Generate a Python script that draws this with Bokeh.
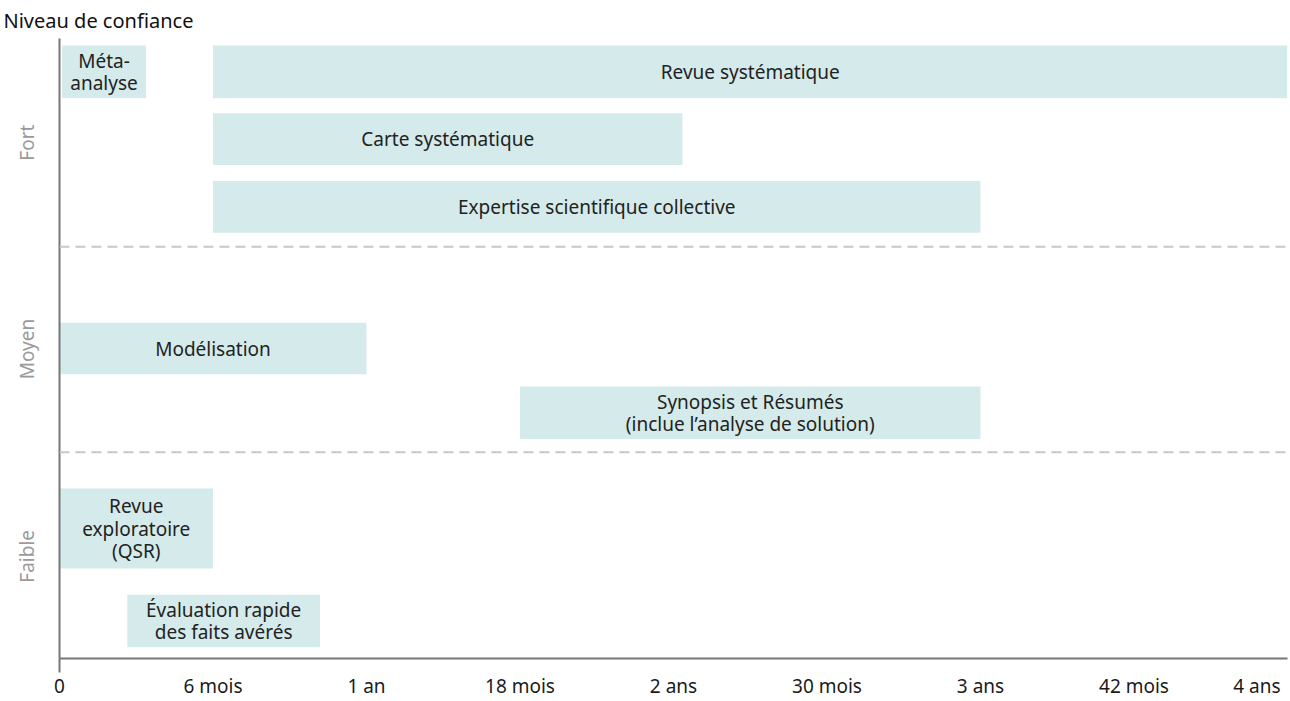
from bokeh.plotting import figure
from bokeh.models import Range1d, FixedTicker, Span, ColumnDataSource
from bokeh.core.properties import value
from bokeh.embed import file_html
from bokeh.resources import INLINE

# ---- data ----
methods = [
    "Méta-\nanalyse",
    "Revue systématique",
    "Carte systématique",
    "Expertise scientifique collective",
    "Modélisation",
    "Synopsis et Résumés\n(inclue l\u2019analyse de solution)",
    "Revue\nexploratoire\n(QSR)",
    "Évaluation rapide\ndes faits avérés",
]
start_months = [0.1, 6.0, 6.0, 6.0, 0.0, 18.0, 0.0, 2.65]
end_months = [3.38, 48.0, 24.35, 36.0, 12.0, 36.0, 6.0, 10.18]
# vertical lane position (confidence scale, 0 = bottom) and lane thickness
lane_pos = [580, 580, 513.5, 446.5, 306.5, 243, 128.5, 37]
lane_size = [52, 52, 51, 51, 51, 52, 79, 52]

tick_months = [0, 6, 12, 18, 24, 30, 36, 42, 48]
tick_labels = ["0", "6 mois", "1 an", "18 mois", "2 ans", "30 mois", "3 ans", "42 mois", "4 ans"]

levels = ["Fort", "Moyen", "Faible"]
level_pos = [510, 306, 101]
level_bounds = [407, 204]

FONT = "Noto Sans"
FS = "19px"
BAR = "#d5eaea"
AXIS = "#777777"

src = ColumnDataSource(dict(
    name=methods, left=start_months, right=end_months, y=lane_pos, h=lane_size,
    xc=[(a + b) / 2 for a, b in zip(start_months, end_months)],
))

p = figure(width=1290, height=701, x_range=Range1d(0, 48), y_range=Range1d(0, 613),
           output_backend="svg", toolbar_location=None,
           min_border_left=59, min_border_right=3, min_border_top=10, min_border_bottom=43)
p.outline_line_color = None
p.grid.visible = False
p.background_fill_color = "white"

p.title.text = "Niveau de confiance"
p.title.align = "left"
p.title.offset = -56
p.title.text_font = FONT
p.title.text_font_size = "20px"
p.title.text_font_style = "normal"
p.title.text_color = "#111111"
p.title.standoff = 9

for b in level_bounds:
    p.add_layout(Span(location=b, dimension="width", line_color="#c8c8c8",
                      line_width=2, line_dash="10 6"))

p.hbar(y="y", height="h", left="left", right="right", source=src,
       fill_color=BAR, line_color=None)
p.text(x="xc", y="y", text="name", source=src, text_align="center",
       text_baseline="middle", text_font=value(FONT), text_font_size=FS,
       text_color="#222222", text_line_height=0.85)

# x axis
xa = p.xaxis[0]
xa.ticker = FixedTicker(ticks=tick_months, minor_ticks=[0])
ov = {m: l for m, l in zip(tick_months, tick_labels)}
# last label sits flush with the right edge: pad with no-break spaces
ov[tick_months[-1]] = tick_labels[-1] + "\u00a0" * 2
xa.major_label_overrides = ov
xa.major_tick_line_color = None
xa.major_tick_out = 0
xa.major_tick_in = 0
xa.minor_tick_line_color = AXIS
xa.minor_tick_line_width = 2
xa.minor_tick_out = 14
xa.minor_tick_in = 0
xa.axis_line_color = AXIS
xa.axis_line_width = 2
xa.major_label_standoff = 0
xa.major_label_text_font = FONT
xa.major_label_text_font_size = FS
xa.major_label_text_color = "#1a1a1a"

# y axis
ya = p.yaxis[0]
ya.ticker = FixedTicker(ticks=level_pos)
ya.major_label_overrides = {v: l for v, l in zip(level_pos, levels)}
ya.major_label_orientation = "parallel"
ya.major_tick_line_color = None
ya.major_tick_out = 0
ya.major_tick_in = 0
ya.minor_tick_line_color = None
ya.axis_line_color = AXIS
ya.axis_line_width = 2
ya.major_label_standoff = 19
ya.major_label_text_font = FONT
ya.major_label_text_font_size = FS
ya.major_label_text_color = "#9a9a9a"

open("out.html", "w").write(file_html(p, INLINE))
